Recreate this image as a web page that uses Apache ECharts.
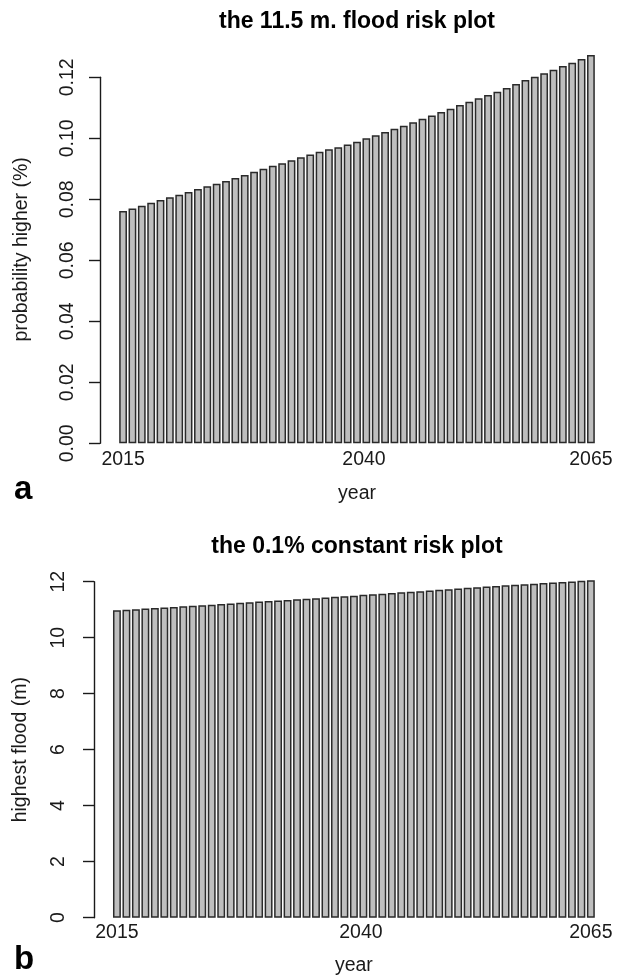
<!DOCTYPE html>
<html><head><meta charset="utf-8">
<script src="https://cdn.jsdelivr.net/npm/echarts@6/dist/echarts.min.js"></script>
<style>html,body{margin:0;padding:0;background:#fff}#c{width:621px;height:977px}</style>
</head><body><div id="c"></div>
<script>
const years = ['2015','2016','2017','2018','2019','2020','2021','2022','2023','2024','2025','2026','2027','2028','2029','2030','2031','2032','2033','2034','2035','2036','2037','2038','2039','2040','2041','2042','2043','2044','2045','2046','2047','2048','2049','2050','2051','2052','2053','2054','2055','2056','2057','2058','2059','2060','2061','2062','2063','2064','2065'];
const xTickLabels = ['2015','2040','2065'];
const riskProbability = [0.0762,0.0770,0.0779,0.0789,0.0798,0.0807,0.0815,0.0824,0.0834,0.0843,0.0851,0.0860,0.0870,0.0880,0.0890,0.0900,0.0910,0.0918,0.0928,0.0938,0.0947,0.0956,0.0964,0.0971,0.0980,0.0989,0.1000,0.1010,0.1021,0.1031,0.1041,0.1053,0.1064,0.1075,0.1086,0.1097,0.1109,0.1120,0.1131,0.1142,0.1153,0.1165,0.1178,0.1191,0.1202,0.1213,0.1225,0.1237,0.1248,0.1260,0.1273];
const highestFlood = [10.98,11.00,11.02,11.04,11.06,11.08,11.10,11.12,11.14,11.16,11.18,11.20,11.22,11.25,11.27,11.29,11.31,11.33,11.35,11.37,11.39,11.41,11.44,11.46,11.48,11.50,11.53,11.55,11.57,11.60,11.62,11.64,11.66,11.69,11.71,11.73,11.76,11.78,11.80,11.83,11.85,11.87,11.89,11.91,11.93,11.95,11.97,11.99,12.01,12.03,12.05];
const yTicksA = [0, 0.02, 0.04, 0.06, 0.08, 0.10, 0.12];
const yTicksB = [0, 2, 4, 6, 8, 10, 12];

const FONT = "'Liberation Sans', Helvetica, Arial, sans-serif";
const INK = '#1a1a1a';
const chart = echarts.init(document.getElementById('c'), null, {renderer: 'canvas'});

function xAxisCfg(gridIndex, nameGap, labelMargin) {
  return {
    type: 'category', gridIndex, data: years,
    axisLine: {show: false}, axisTick: {show: false},
    axisLabel: {
      interval: (i, v) => xTickLabels.indexOf(v) >= 0,
      formatter: v => (v === xTickLabels[1] ? '{mid|' + v + '}' : v),
      rich: {mid: {color: INK, fontFamily: FONT, fontSize: 19.5, padding: [0, 0, 0, 14]}},
      color: INK, fontFamily: FONT, fontSize: 19.5, margin: labelMargin
    },
    name: 'year', nameLocation: 'middle', nameGap,
    nameTextStyle: {color: INK, fontFamily: FONT, fontSize: 19.5}
  };
}
function yAxisCfg(gridIndex, ticks, digits, offset, labelMargin, name, nameGap, namePad) {
  return {
    type: 'value', gridIndex, min: ticks[0], max: ticks[ticks.length - 1],
    interval: ticks[1] - ticks[0], offset,
    splitLine: {show: false},
    axisLine: {show: true, lineStyle: {color: INK, width: 1.4}},
    axisTick: {show: true, length: 11, lineStyle: {color: INK, width: 1.4}},
    axisLabel: {
      rotate: 90, margin: labelMargin, color: INK, fontFamily: FONT, fontSize: 19.5,
      formatter: v => v.toFixed(digits)
    },
    name, nameLocation: 'middle', nameRotate: 90, nameGap,
    nameTextStyle: {color: INK, fontFamily: FONT, fontSize: 19.5, padding: namePad}
  };
}
function barSeries(idx, data) {
  return {
    type: 'bar', xAxisIndex: idx, yAxisIndex: idx, data, clip: false,
    barCategoryGap: '16.67%',
    itemStyle: {color: '#bebebe', borderColor: '#2a2a2a', borderWidth: 1.5},
    emphasis: {disabled: true}, animation: false
  };
}

chart.setOption({
  backgroundColor: '#fff',
  animation: false,
  title: [
    {text: 'the 11.5 m. flood risk plot', left: 357, top: 10, textAlign: 'center', padding: 0,
     textStyle: {fontFamily: FONT, fontSize: 23, fontWeight: 'bold', color: '#000'}},
    {text: 'the 0.1% constant risk plot', left: 357, top: 535, textAlign: 'center', padding: 0,
     textStyle: {fontFamily: FONT, fontSize: 23, fontWeight: 'bold', color: '#000'}},
    {text: 'a', left: 14, top: 473, padding: 0,
     textStyle: {fontFamily: FONT, fontSize: 33, fontWeight: 'bold', color: '#000'}},
    {text: 'b', left: 14, top: 943, padding: 0,
     textStyle: {fontFamily: FONT, fontSize: 33, fontWeight: 'bold', color: '#000'}}
  ],
  grid: [
    {left: 118.4, top: 77.3, width: 477.2, height: 366},
    {left: 112.2, top: 581.7, width: 483.4, height: 336}
  ],
  xAxis: [xAxisCfg(0, 40, 6), xAxisCfg(1, 38, 5)],
  yAxis: [
    yAxisCfg(0, yTicksA, 2, 18.4, 22, 'probability higher (%)', 68, [0, 0, 0, 22]),
    yAxisCfg(1, yTicksB, 0, 18.2, 25, 'highest flood (m)', 63, 0)
  ],
  series: [barSeries(0, riskProbability), barSeries(1, highestFlood)]
});
</script></body></html>
